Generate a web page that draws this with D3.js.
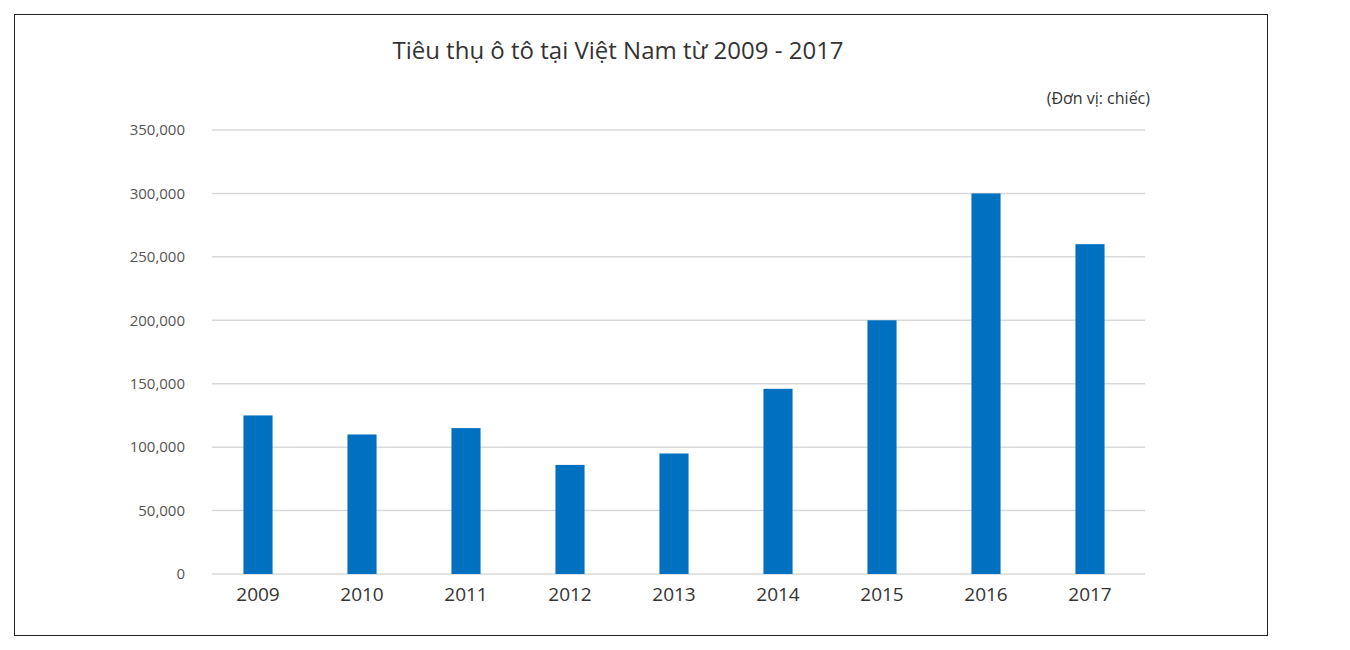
<!DOCTYPE html>
<html lang="en">
<head>
<meta charset="utf-8">
<script src="https://cdn.jsdelivr.net/npm/d3@7"></script>
<style>
body { margin: 0; background: #fff; font-family: "Open Sans", sans-serif; }
</style>
</head>
<body>
<div id="chart"></div>
<script>
var years = ["2009","2010","2011","2012","2013","2014","2015","2016","2017"]
var sales = [125000, 110000, 115000, 86000, 95000, 146000, 200000, 300000, 260000]
var yTicks = [0, 50000, 100000, 150000, 200000, 250000, 300000, 350000]

var w = 1350, h = 650
var svg = d3.select("#chart").append("svg").attr("width", w).attr("height", h)

svg.append("rect").attr("x", 14.5).attr("y", 14.5).attr("width", 1253).attr("height", 621)
	.attr("fill", "none").attr("stroke", "#222").attr("stroke-width", 1)

var xScale = d3.scaleBand().domain(years).range([206, 1142]).paddingInner(0.72).paddingOuter(0.36)
var yScale = d3.scaleLinear().domain([0, 350000]).range([574, 130])

// gridlines
svg.selectAll("line.grid").data(yTicks).enter().append("line")
	.attr("x1", 212).attr("x2", 1145)
	.attr("y1", function(d){ return yScale(d) }).attr("y2", function(d){ return yScale(d) })
	.attr("stroke", "#d9d9d9").attr("stroke-width", 1.5)

var yAxis = d3.axisLeft(yScale).tickValues(yTicks).tickSize(0).tickPadding(0)
svg.append("g").attr("transform", "translate(185,0)").call(yAxis)
	.call(function(g){ g.select(".domain").remove() })
	.selectAll("text").attr("font-size", 15).attr("fill", "#555").attr("font-family", "Open Sans, sans-serif")

svg.selectAll("rect.bar").data(sales).enter().append("rect")
	.attr("x", function(d, i){ return xScale(years[i]) })
	.attr("width", xScale.bandwidth())
	.attr("y", function(d){ return yScale(d) })
	.attr("height", function(d){ return yScale(0) - yScale(d) })
	.attr("fill", "#0070c0")

var xAxis = d3.axisBottom(xScale).tickSize(0).tickPadding(14)
svg.append("g").attr("transform", "translate(0,574)").call(xAxis)
	.call(function(g){ g.select(".domain").remove() })
	.selectAll("text").attr("font-size", 19).attr("fill", "#333").attr("font-family", "Open Sans, sans-serif")

svg.append("text").attr("x", 618).attr("y", 59).attr("text-anchor", "middle")
	.attr("font-size", 24).attr("fill", "#333").text("Tiêu thụ ô tô tại Việt Nam từ 2009 - 2017")

svg.append("text").attr("x", 1150).attr("y", 104).attr("text-anchor", "end")
	.attr("font-size", 16).attr("fill", "#333").text("(Đơn vị: chiếc)")
</script>
</body>
</html>
